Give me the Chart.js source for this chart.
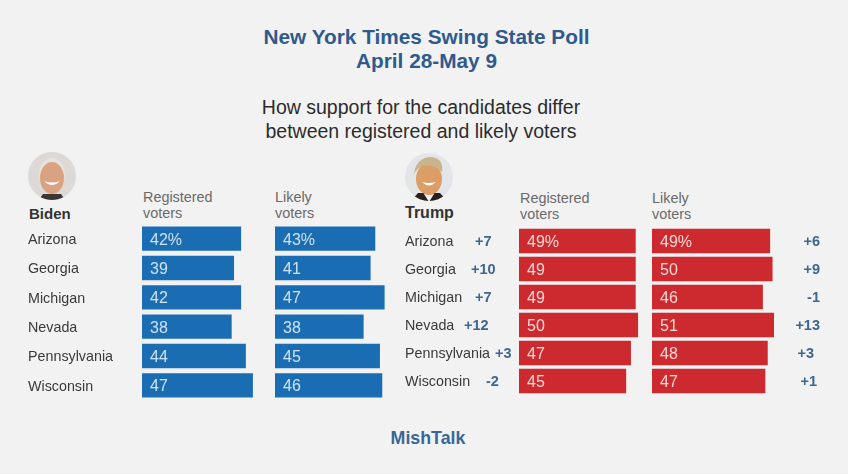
<!DOCTYPE html>
<html lang="en">
<head>
  <meta charset="UTF-8" />
  <title>New York Times Swing State Poll</title>
  <script src="https://cdn.jsdelivr.net/npm/chart.js"></script>
  <style>
    * { margin: 0; padding: 0; box-sizing: border-box; }
    html, body { width: 848px; height: 474px; overflow: hidden; background: #f2f2f2; font-family: 'Liberation Sans', sans-serif; }
    .abs { position: absolute; }
    .title { left: 0; width: 853px; top: 25px; text-align: center; color: #2f5a8e; font-weight: bold; font-size: 20.8px; line-height: 24px; }
    .sub { left: 0; width: 842px; top: 95px; text-align: center; color: #2c2c2c; font-size: 19.5px; line-height: 24px; }
    .name { font-weight: bold; font-size: 15px; color: #333; }
    .head { color: #6a6a6a; font-size: 14.4px; line-height: 16px; }
    .foot { left: 0; width: 856px; top: 428px; text-align: center; color: #3a6797; font-weight: bold; font-size: 17.8px; }
    .box { position: absolute; }
  </style>
</head>
<body>
  <div class="abs title">New York Times Swing State Poll<br>April 28-May 9</div>
  <div class="abs sub">How support for the candidates differ<br>between registered and likely voters</div>

  <svg class="abs" style="left:27px;top:151px" width="50" height="50" viewBox="0 0 50 50">
    <defs><clipPath id="c1"><circle cx="25" cy="25" r="24" /></clipPath></defs>
    <g clip-path="url(#c1)">
      <rect width="50" height="50" fill="#dcd9d6" />
      <path d="M11 50 L16 43 L34 43 L39 50 Z" fill="#3a3432" />
      <ellipse cx="25" cy="23" rx="13" ry="16" fill="#e6e2dc" />
      <ellipse cx="25" cy="27" rx="12" ry="16" fill="#d9a382" />
      <path d="M17 30 Q25 38 33 30 Q25 33 17 30 Z" fill="#fff" />
    </g>
  </svg>
  <svg class="abs" style="left:404px;top:152px" width="50" height="50" viewBox="0 0 50 50">
    <defs><clipPath id="c2"><circle cx="25" cy="25" r="24" /></clipPath></defs>
    <g clip-path="url(#c2)">
      <rect width="50" height="50" fill="#e4e5e8" />
      <path d="M6 50 L14 41 L36 41 L44 50 Z" fill="#26211f" />
      <path d="M20 42 L30 42 L25 50 Z" fill="#f4f0ec" />
      <ellipse cx="25" cy="27" rx="13" ry="16" fill="#dd9d66" />
      <path d="M10 22 Q12 5 28 5 Q40 7 38 20 Q30 12 19 14 Q13 16 10 22 Z" fill="#c9b48c" />
      <path d="M18 30 Q25 37 32 30 Q25 32 18 30 Z" fill="#fff" />
    </g>
  </svg>

  <div class="abs name" style="left:29px;top:205px">Biden</div>
  <div class="abs name" style="left:405px;top:204px;font-size:16px">Trump</div>
  <div class="abs head" style="left:143px;top:189px">Registered<br>voters</div>
  <div class="abs head" style="left:275px;top:189px">Likely<br>voters</div>
  <div class="abs head" style="left:520px;top:190px">Registered<br>voters</div>
  <div class="abs head" style="left:652px;top:190px">Likely<br>voters</div>

  <div class="box" style="left:28px;top:224px;width:232px;height:176px"><canvas id="bidenReg"></canvas></div>
  <div class="box" style="left:275px;top:224px;width:118px;height:176px"><canvas id="bidenLikely"></canvas></div>
  <div class="box" style="left:405px;top:227px;width:245px;height:168px"><canvas id="trumpReg"></canvas></div>
  <div class="box" style="left:652px;top:227px;width:170px;height:168px"><canvas id="trumpLikely"></canvas></div>

  <div class="abs foot">MishTalk</div>

  <script>
    const states = ['Arizona', 'Georgia', 'Michigan', 'Nevada', 'Pennsylvania', 'Wisconsin'];
    const bidenRegistered = [42, 39, 42, 38, 44, 47];
    const bidenLikely = [43, 41, 47, 38, 45, 46];
    const trumpRegistered = [49, 49, 49, 50, 47, 45];
    const trumpLikely = [49, 50, 46, 51, 48, 47];
    const marginRegistered = ['+7', '+10', '+7', '+12', '+3', '-2'];
    const marginLikely = ['+6', '+9', '-1', '+13', '+3', '+1'];

    const FONT = "'Liberation Sans', sans-serif";
    const BLUE = '#1b6db3';
    const RED = '#cc2a2f';
    const MARGIN_COLOR = '#3d6690';

    // in-bar numbers, first row gets the % sign
    const barText = (color) => ({
      id: 'barText',
      afterDatasetsDraw(chart) {
        const c = chart.ctx;
        c.save();
        c.font = '16px ' + FONT;
        c.fillStyle = color;
        c.textAlign = 'left';
        c.textBaseline = 'middle';
        chart.getDatasetMeta(0).data.forEach((bar, i) => {
          const v = chart.data.datasets[0].data[i];
          c.fillText(v + (i === 0 ? '%' : ''), bar.base + 8, bar.y + 1.5);
        });
        c.restore();
      }
    });

    // state names, drawn at the left edge of the canvas
    const stateText = {
      id: 'stateText',
      afterDatasetsDraw(chart) {
        const c = chart.ctx;
        c.save();
        c.font = '14.3px ' + FONT;
        c.fillStyle = '#3a3a3a';
        c.textAlign = 'left';
        c.textBaseline = 'middle';
        chart.getDatasetMeta(0).data.forEach((bar, i) => {
          c.fillText(chart.data.labels[i], 0, bar.y + 1.5);
        });
        c.restore();
      }
    };

    // +n / -n column; xs are offsets from the left of the canvas
    const marginText = (labels, xs, align) => ({
      id: 'marginText',
      afterDatasetsDraw(chart) {
        const c = chart.ctx;
        c.save();
        c.font = 'bold 14.5px ' + FONT;
        c.fillStyle = MARGIN_COLOR;
        c.textAlign = align;
        c.textBaseline = 'middle';
        chart.getDatasetMeta(0).data.forEach((bar, i) => {
          c.fillText(labels[i], xs[i], bar.y + 1);
        });
        c.restore();
      }
    });

    function makeBars(id, values, color, o) {
      return new Chart(document.getElementById(id), {
        type: 'bar',
        data: {
          labels: states,
          datasets: [{
            data: values,
            backgroundColor: color,
            categoryPercentage: 1,
            barPercentage: o.barPct
          }]
        },
        options: {
          indexAxis: 'y',
          responsive: true,
          maintainAspectRatio: false,
          animation: false,
          layout: { padding: { left: o.left || 0, top: 0, bottom: 0, right: o.right || 0 } },
          plugins: { legend: { display: false }, tooltip: { enabled: false } },
          scales: {
            x: { display: false, min: 0, max: o.max },
            y: { display: false }
          }
        },
        plugins: [barText(o.textColor)].concat(o.extra || [])
      });
    }

    makeBars('bidenReg', bidenRegistered, BLUE, { max: 50, left: 114, barPct: 0.83, textColor: '#cfe2f1', extra: [stateText] });
    makeBars('bidenLikely', bidenLikely, BLUE, { max: 50.6, barPct: 0.83, textColor: '#cfe2f1' });
    makeBars('trumpReg', trumpRegistered, RED, {
      max: 55, left: 114, barPct: 0.87, textColor: '#f7d9d6',
      extra: [stateText, marginText(marginRegistered, [70, 66, 70, 59, 90, 81], 'left')]
    });
    makeBars('trumpLikely', trumpLikely, RED, {
      max: 50.6, right: 48, barPct: 0.87, textColor: '#f7d9d6',
      extra: [marginText(marginLikely, [168, 168, 168, 168, 162, 165], 'right')]
    });
  </script>
</body>
</html>
